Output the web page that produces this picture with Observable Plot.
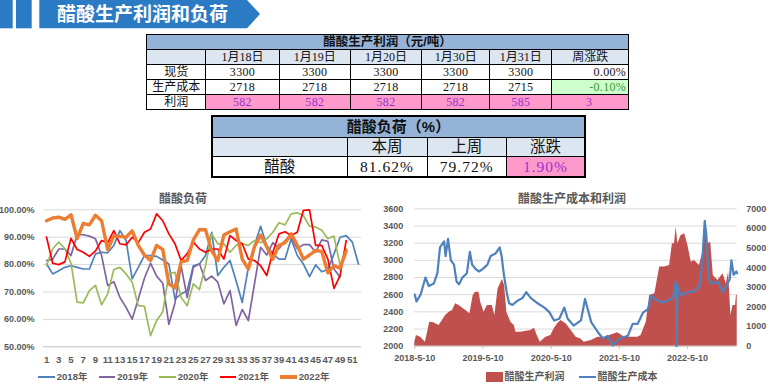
<!DOCTYPE html>
<html>
<head>
<meta charset="utf-8">
<script src="https://cdn.jsdelivr.net/npm/d3@7"></script>
<script src="https://cdn.jsdelivr.net/npm/@observablehq/plot@0.6"></script>
<style>
  html, body { margin: 0; padding: 0; background: #fff; }
  body { width: 778px; height: 386px; overflow: hidden; position: relative; font-family: "Noto Sans CJK SC", sans-serif; }
  .abs { position: absolute; }
  table { border-collapse: collapse; table-layout: fixed; position: absolute; }
  td { padding: 0; text-align: center; border: 1px solid #000; overflow: visible; white-space: nowrap; color: #111; }
  #t1 { border: 1.5px solid #000; font-family: "Liberation Serif", "Noto Sans CJK SC", serif; font-size: 12px; }
  #t1 td { line-height: 14px; }
  #t1 tr.title td { background: #95B3D7; font-family: "Liberation Sans", "Noto Sans CJK SC", sans-serif; font-weight: bold; font-size: 12.5px; height: 13px; line-height: 13px; }
  #t1 tr.hdr td { background: #DCE6F1; }
  #t1 tr { height: 15px; }
  #t1 .num { letter-spacing: 0.3px; }
  #t2 { border: 2px solid #000; font-family: "Liberation Serif", "Noto Sans CJK SC", serif; font-size: 15.5px; }
  #t2 td { border: 1.5px solid #000; }
  #t2 tr.title td { background: #95B3D7; font-family: "Liberation Sans", "Noto Sans CJK SC", sans-serif; font-weight: bold; font-size: 15px; height: 20px; line-height: 20px; }
  #t2 tr.hdr td { background: #DCE6F1; height: 18px; line-height: 18px; }
  #t2 tr.data td { height: 19px; line-height: 19px; }
  #t2 .num { letter-spacing: 1px; }
  .pink { background: #FF99CC !important; color: #9933CC !important; }
  .green { background: #CCFFCC !important; color: #339933 !important; }
  .ctitle { position: absolute; font-family: "Liberation Sans", "Noto Sans CJK SC", sans-serif; font-weight: bold; font-size: 12px; color: #595959; transform: translate(-50%, -50%); white-space: nowrap; }
  .leg { position: absolute; font-family: "Liberation Sans", "Noto Sans CJK SC", sans-serif; font-weight: bold; font-size: 9.5px; color: #595959; white-space: nowrap; line-height: 12px; }
</style>
</head>
<body>
<!-- header banner -->
<svg class="abs" style="left:0;top:0" width="270" height="30">
  <rect x="0" y="0" width="12.7" height="28.3" fill="#2B7BC4"></rect>
  <rect x="16" y="0" width="15.7" height="28.3" fill="#2B7BC4"></rect>
  <polygon points="39.3,0 247,0 260,14 247,28.3 39.3,28.3" fill="#2B7BC4"></polygon>
</svg>
<div class="abs" style="left:57px;top:3px;color:#fff;font-weight:bold;font-size:19px;line-height:24px;font-family:'Liberation Sans','Noto Sans CJK SC',sans-serif;">醋酸生产利润和负荷</div>

<table id="t1" style="left:146px;top:34px;width:482px"></table>
<table id="t2" style="left:211px;top:114.5px;width:373px"></table>

<div class="ctitle" style="left:183px;top:197px">醋酸负荷</div>
<div class="ctitle" style="left:572px;top:197px">醋酸生产成本和利润</div>

<div id="left" class="abs" style="left:0;top:185px"></div>
<div id="right" class="abs" style="left:380px;top:185px"></div>
<div id="legL"></div>
<div id="legR"></div>

<script>
// ---------------- table data ----------------
const t1Title = "醋酸生产利润（元/吨）";
const t1Dates = ["1月18日", "1月19日", "1月20日", "1月30日", "1月31日"];
const t1ChangeHeader = "周涨跌";
const t1RowLabels = ["现货", "生产成本", "利润"];
const spotPrice = [3300, 3300, 3300, 3300, 3300];
const prodCost = [2718, 2718, 2718, 2718, 2715];
const prodProfit = [582, 582, 582, 582, 585];
const weeklyChange = ["0.00%", "-0.10%", "3"];

const t2Title = "醋酸负荷（%）";
const t2Headers = ["本周", "上周", "涨跌"];
const t2RowLabel = "醋酸";
const t2Values = ["81.62%", "79.72%", "1.90%"];

// ---------------- load chart data (weekly, %) ----------------
const loadSeries = ["2018年", "2019年", "2020年", "2021年", "2022年"];
const load2018 = [80.2,76.6,77.8,79,79.6,79,78.4,78.4,83.9,84.5,84.3,87,92.4,88.8,74.8,79,83.3,83.3,83,81.7,80.2,67.4,69.3,70.5,79.6,80.2,83.3,91.8,76,79,81.5,74,66.2,79,87,94,87,84,82,82,89.4,83.3,80.2,75.6,79.9,77.4,78.2,83.9,90,90.6,88.2,80.2];
const load2019 = [81.5,82,85.7,85.7,83.3,90.9,90.9,90.4,89.4,83.3,72.3,73.8,68,64.4,60.1,67.4,75,80.5,75.8,73.2,58.2,66,79.5,68,79,80.3,74.2,75.8,73.6,65.7,70.5,57.8,63.6,59.6,73,86.3,83.5,88,85.8,88.8,90,85.8,87.3,87.3,84.5,89,88.5,78.4,75.4];
const load2020 = [79.7,85.8,88.2,85.8,80.5,66.3,66,70.5,72.4,65.3,69.3,78.2,79,76.6,73.6,65,64.8,54.1,59.6,62.7,76.6,77.2,68,65,73,70.9,79.7,91.2,87.6,87.6,84.5,87,87.6,87,88.8,88,89.4,91.8,95.3,94.5,98.5,98.9,97.9,94,93.7,92.5,89.4,90.4,79.7,85.8];
const load2021 = [90,80.5,80,81,89.6,85.5,84.5,83,85,88.8,88,92.4,87.6,87.2,90,88,91.8,93,98.5,96,91.2,87.6,81.5,84,88.2,85.7,84.5,85.7,85.7,82,90.6,88.8,87.6,82,81.5,79.6,76,84.5,91.2,92,90.6,91.8,99.8,100,87,87,82,71.3,76,88.8];
const load2022 = [96,97,97.3,96.5,98.2,89.5,95,94.5,98,96,85.5,90.5,90.3,90,92.3,87,83.5,81.5,87,85.5,73,71.5,81,81.5,89,92.8,92.7,85,81.5,90.8,92,93,82,78.4,86.5,90.8,86.5,82,87,88,91.2,87,82,83.5,85.2,84.8,77,79.6,78.7,85];
const loadTicksY = [50, 60, 70, 80, 90, 100];
const weekTicks = [1,3,5,7,9,11,13,15,17,19,21,23,25,27,29,31,33,35,37,39,41,43,45,47,49,51];

// ---------------- cost / profit chart data ----------------
const costDates = ["2018-05-10","2018-05-19","2018-06-10","2018-07-06","2018-07-24","2018-08-20","2018-09-08","2018-09-22","2018-10-14","2018-10-22","2018-11-04","2018-11-19","2018-12-06","2018-12-20","2019-01-02","2019-01-20","2019-02-13","2019-03-01","2019-03-13","2019-03-31","2019-04-19","2019-05-10","2019-06-03","2019-06-20","2019-07-17","2019-08-08","2019-08-18","2019-08-31","2019-09-15","2019-09-27","2019-10-15","2019-11-11","2019-12-07","2019-12-28","2020-01-22","2020-02-27","2020-04-03","2020-04-29","2020-05-25","2020-06-22","2020-07-19","2020-08-06","2020-09-07","2020-10-16","2020-11-07","2020-12-10","2021-01-16","2021-02-11","2021-03-08","2021-04-04","2021-05-12","2021-06-24","2021-07-20","2021-08-16","2021-09-13","2021-10-10","2021-10-28","2021-11-16","2021-12-20","2022-01-25","2022-02-22","2022-03-08","2022-03-12","2022-03-17","2022-04-06","2022-05-10","2022-06-16","2022-07-13","2022-07-28","2022-08-10","2022-08-19","2022-08-31","2022-09-14","2022-10-20","2022-11-16","2022-12-03","2022-12-22","2022-12-31","2023-01-12","2023-01-26","2023-01-31"];
const costValues = [2600,2520,2600,2800,2700,2730,2850,3150,3220,3050,3250,3000,2950,2750,2720,2800,2850,3100,2950,2900,2870,2900,2950,3050,3080,3150,3050,2820,2620,2500,2480,2530,2560,2630,2560,2500,2450,2400,2300,2320,2450,2320,2240,2300,2550,2280,2160,2090,2120,2010,2090,2120,2260,2260,2390,2430,2590,2550,2510,2530,2570,2750,2000,2700,2590,2630,2640,2700,2980,3460,3290,2780,2730,2750,2630,2700,2780,3000,2830,2870,2850];
const profitDates = ["2018-05-10","2018-05-19","2018-06-10","2018-07-06","2018-07-29","2018-08-20","2018-09-17","2018-10-04","2018-10-22","2018-11-10","2018-11-28","2018-12-15","2019-01-02","2019-02-08","2019-03-01","2019-03-19","2019-03-31","2019-04-19","2019-04-28","2019-05-16","2019-06-03","2019-06-29","2019-07-13","2019-07-30","2019-08-22","2019-09-03","2019-09-15","2019-10-07","2019-10-25","2019-11-03","2019-11-29","2020-01-22","2020-02-10","2020-02-25","2020-03-12","2020-04-11","2020-05-08","2020-05-25","2020-06-13","2020-07-01","2020-07-28","2020-08-25","2020-09-20","2020-10-16","2020-11-03","2020-12-10","2021-01-16","2021-02-20","2021-05-01","2021-06-07","2021-08-16","2021-09-03","2021-10-01","2021-10-19","2021-11-16","2021-12-12","2022-01-07","2022-02-03","2022-02-18","2022-03-01","2022-03-10","2022-03-19","2022-04-06","2022-04-25","2022-05-12","2022-05-30","2022-06-16","2022-07-13","2022-07-31","2022-08-10","2022-08-28","2022-09-11","2022-09-25","2022-10-20","2022-11-16","2022-12-04","2022-12-16","2022-12-28","2023-01-09","2023-01-22","2023-01-27","2023-01-31"];
const profitValues = [200,540,460,200,1220,1200,1050,1300,1560,1730,1820,2160,2070,1820,1650,2580,2750,2750,2240,1730,2070,2070,1560,2920,3400,3090,1730,1220,1050,710,710,800,920,540,200,460,540,880,1140,1310,1140,800,460,370,200,290,460,460,680,460,460,540,1220,2580,2670,4030,4030,4110,5220,5220,6070,5220,5640,5730,5130,4280,4370,4110,4790,5980,5220,5300,3600,3350,3690,3180,3770,1560,2070,2070,2580,2620];
const costTicks = [2000, 2200, 2400, 2600, 2800, 3000, 3200, 3400, 3600];
const profitTicks = [0, 1000, 2000, 3000, 4000, 5000, 6000, 7000];
const dateTicks = ["2018-05-10", "2019-05-10", "2020-05-10", "2021-05-10", "2022-05-10"];
const dateDomain = ["2018-05-10", "2023-01-31"];
const cpSeries = ["醋酸生产利润", "醋酸生产成本"];

// ---------------- build tables ----------------
(function () {
  const t1 = document.getElementById("t1");
  const widths = [59.3, 73.3, 71.4, 71, 68.3, 62, 76.7];
  let html = "<colgroup>" + widths.map(w => `<col style="width:${w}px">`).join("") + "</colgroup>";
  html += `<tr class="title"><td colspan="7">${t1Title}</td></tr>`;
  html += `<tr class="hdr"><td></td>${t1Dates.map(d => `<td>${d}</td>`).join("")}<td>${t1ChangeHeader}</td></tr>`;
  const rows = [spotPrice, prodCost, prodProfit];
  rows.forEach((r, i) => {
    const cls = i === 2 ? "pink" : "";
    const chCls = i === 1 ? "green" : (i === 2 ? "pink" : "");
    html += `<tr><td>${t1RowLabels[i]}</td>` +
      r.map(v => `<td class="num ${cls}">${v}</td>`).join("") +
      `<td class="num ${chCls}" style="text-align:${i === 2 ? "center" : "right"};padding-right:2px">${weeklyChange[i]}</td></tr>`;
  });
  t1.innerHTML = html;

  const t2 = document.getElementById("t2");
  const w2 = [135, 80, 79.3, 78.7];
  let h2 = "<colgroup>" + w2.map(w => `<col style="width:${w}px">`).join("") + "</colgroup>";
  h2 += `<tr class="title"><td colspan="4">${t2Title}</td></tr>`;
  h2 += `<tr class="hdr"><td></td>${t2Headers.map(h => `<td>${h}</td>`).join("")}</tr>`;
  h2 += `<tr class="data"><td>${t2RowLabel}</td>` +
    t2Values.map((v, i) => `<td class="num ${i === 2 ? "pink" : ""}">${v}</td>`).join("") + "</tr>";
  t2.innerHTML = h2;
})();

// ---------------- left chart ----------------
const loadColors = ["#4F81BD", "#8064A2", "#9BBB59", "#FF0000", "#ED7D31"];
const loadWidths = [1.7, 1.7, 1.7, 1.7, 3.4];
const loads = [load2018, load2019, load2020, load2021, load2022];
const loadRows = [];
loads.forEach((arr, i) => arr.forEach((v, j) => loadRows.push({ series: loadSeries[i], week: j + 1, value: v })));

const chartFont = "'Liberation Sans', 'Noto Sans CJK SC', sans-serif";
const left = Plot.plot({
  width: 380, height: 185,
  marginLeft: 43, marginRight: 19, marginTop: 24.3, marginBottom: 23.7,
  x: { domain: [0.5, 52.5] },
  y: { domain: [50, 100] },
  style: { fontFamily: chartFont, fontWeight: "bold", color: "#595959", background: "transparent", overflow: "visible" },
  marks: [
    Plot.ruleY(loadTicksY.slice(1), { stroke: "#D9D9D9", strokeWidth: 1 }),
    Plot.ruleY([50], { stroke: "#BFBFBF", strokeWidth: 1 }),
    Plot.axisY({ ticks: loadTicksY, tickSize: 0, tickPadding: 9, tickFormat: d => d.toFixed(2) + "%", fontSize: 9, label: null }),
    Plot.axisX({ ticks: weekTicks, tickSize: 0, tickPadding: 9, tickFormat: d => String(d), fontSize: 9.6, label: null }),
    ...loadSeries.map((s, i) => Plot.line(loadRows.filter(r => r.series === s), {
      x: "week", y: "value", stroke: loadColors[i], strokeWidth: loadWidths[i], strokeLinejoin: "round"
    }))
  ]
});
document.getElementById("left").appendChild(left);

// legend left
(function () {
  const c = document.getElementById("legL");
  loadSeries.forEach((s, i) => {
    const x = 38.3 + i * 60.5;
    c.insertAdjacentHTML("beforeend",
      `<div class="abs" style="left:${x}px;top:${377 - loadWidths[i] / 2}px;width:16.7px;height:${loadWidths[i]}px;background:${loadColors[i]}"></div>` +
      `<div class="leg" style="left:${x + 18.5}px;top:371px">${s}</div>`);
  });
})();

// ---------------- right chart ----------------
const profitToLeft = p => 2000 + p * 1600 / 7000;
const costRows = costDates.map((d, i) => ({ date: new Date(d), value: costValues[i] }));
const profitRows = profitDates.map((d, i) => ({ date: new Date(d), value: profitValues[i] }));
const right = Plot.plot({
  width: 398, height: 185,
  marginLeft: 34.3, marginRight: 41.3, marginTop: 23.3, marginBottom: 24.3,
  x: { type: "utc", domain: dateDomain.map(d => new Date(d)) },
  y: { domain: [2000, 3600] },
  style: { fontFamily: chartFont, fontWeight: "bold", color: "#595959", background: "transparent", overflow: "visible" },
  marks: [
    Plot.ruleY(costTicks.slice(1), { stroke: "#D9D9D9", strokeWidth: 1 }),
    Plot.areaY(profitRows, { x: "date", y1: 2000, y2: d => profitToLeft(d.value), fill: "#C0504D" }),
    Plot.ruleY([2000], { stroke: "#BFBFBF", strokeWidth: 1 }),
    Plot.line(costRows, { x: "date", y: "value", stroke: "#4F81BD", strokeWidth: 2.2, strokeLinejoin: "round" }),
    Plot.axisY({ ticks: costTicks, tickSize: 0, tickPadding: 11.5, fontSize: 9, label: null, tickFormat: d => String(d) }),
    Plot.axisY(profitTicks.map(profitToLeft), { anchor: "right", tickSize: 0, tickPadding: 9, fontSize: 9, label: null,
      tickFormat: d => String(Math.round((d - 2000) * 7000 / 1600)) }),
    Plot.axisX({ ticks: dateTicks.map(d => new Date(d)), tickSize: 3, stroke: "#BFBFBF", tickPadding: 5.5, fontSize: 9, label: null,
      tickFormat: d => `${d.getUTCFullYear()}-${d.getUTCMonth() + 1}-${d.getUTCDate()}` })
  ]
});
document.getElementById("right").appendChild(right);

// legend right
(function () {
  const c = document.getElementById("legR");
  c.insertAdjacentHTML("beforeend",
    `<div class="abs" style="left:486px;top:372px;width:17px;height:10px;background:#C0504D"></div>` +
    `<div class="leg" style="left:504.5px;top:371px;font-size:10px">${cpSeries[0]}</div>` +
    `<div class="abs" style="left:579px;top:375.8px;width:17px;height:2.4px;background:#4F81BD"></div>` +
    `<div class="leg" style="left:597.5px;top:371px;font-size:10px">${cpSeries[1]}</div>`);
})();
</script>
</body>
</html>
